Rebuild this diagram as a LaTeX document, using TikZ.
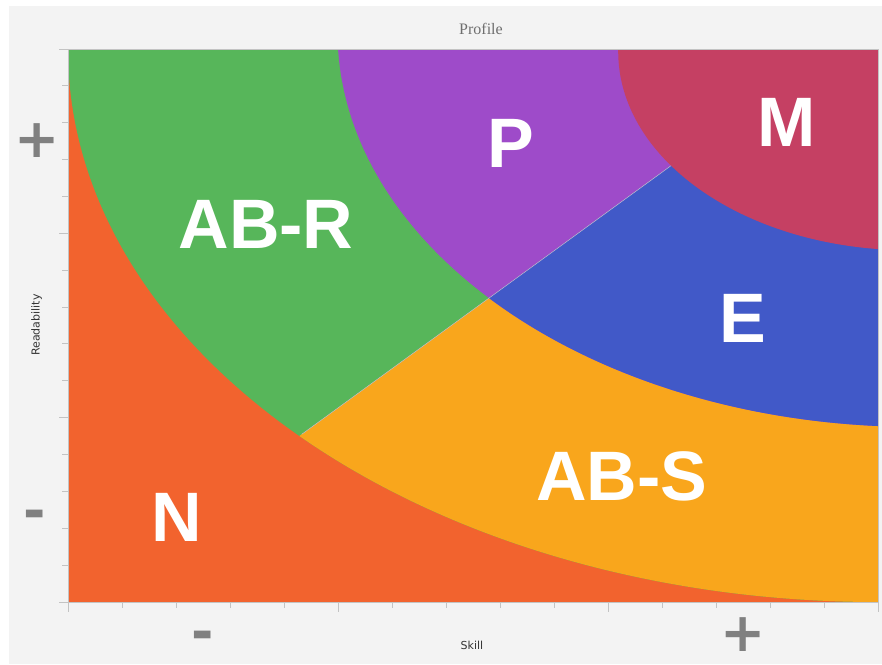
\documentclass[tikz,border=0pt]{standalone}
\usepackage{fontspec}
\setmainfont{Liberation Sans}
\newfontfamily\djv{DejaVu Sans}
\newfontfamily\lserif{Liberation Serif}
\usetikzlibrary{calc}
\definecolor{bgc}{RGB}{243,243,243}
\definecolor{cN}{RGB}{242,99,46}
\definecolor{cABR}{RGB}{87,182,90}
\definecolor{cABS}{RGB}{249,166,28}
\definecolor{cP}{RGB}{158,75,201}
\definecolor{cE}{RGB}{65,89,200}
\definecolor{cM}{RGB}{197,64,99}
\definecolor{axc}{RGB}{195,195,195}
\definecolor{signc}{RGB}{128,128,128}
\definecolor{seamc}{RGB}{190,190,205}
\definecolor{titlec}{RGB}{110,110,110}
\tikzset{
  biglabel/.style={text=white, inner sep=0pt, font=\bfseries\fontsize{70}{70}\selectfont},
  signlabel/.style={text=signc, inner sep=0pt, font=\djv\bfseries\fontsize{54}{54}\selectfont},
  axlabel/.style={text=black!80, inner sep=0pt, font=\djv\fontsize{11}{13}\selectfont},
  titlelabel/.style={text=titlec, inner sep=0pt, font=\lserif\fontsize{16}{18}\selectfont},
  axisline/.style={draw=axc, line width=1pt},
  seam/.style={draw=seamc, line width=0.5pt}
}
\begin{document}
\begin{tikzpicture}[x=1pt,y=-1pt]
\useasboundingbox (0,0) rectangle (882,664);
\fill[white] (0,0) rectangle (882,664);
\fill[bgc] (9,6) rectangle (882,664);
\coordinate (TL) at (68,49);
\coordinate (BR) at (878,602);
\coordinate (C1) at (878,49);
\coordinate (C2) at (916.9,31.3);
\coordinate (C3) at (909.3,51.5);
\coordinate (J1) at (301.7,434.3);
\coordinate (J3) at (671,165.7);
\coordinate (L0) at ($(J1)!-1!(J3)$);
\coordinate (L1) at ($(J1)!3!(J3)$);
\coordinate (L2) at (1500,800);
\begin{scope}
  \clip (TL) rectangle (BR);
  \fill[cN] (TL) rectangle (BR);
  \begin{scope}
    \clip (C1) ellipse [x radius=810pt, y radius=553pt];
    \fill[cABR] (TL) rectangle (BR);
    \fill[cABS] (L0) -- (L1) -- (L1 -| L2) -- (L2) -- (L0 |- L2) -- cycle;
  \end{scope}
  \begin{scope}
    \clip (C2) ellipse [x radius=579.4pt, y radius=395.6pt];
    \fill[cP] (TL) rectangle (BR);
    \fill[cE] (L0) -- (L1) -- (L1 -| L2) -- (L2) -- (L0 |- L2) -- cycle;
  \end{scope}
  \fill[cM] (C3) ellipse [x radius=291.1pt, y radius=198.7pt];
  \draw[seam] (J1) -- (J3);
\end{scope}
% axes
\draw[axisline] (TL) rectangle (BR);
\foreach \i in {0,...,15} {
  \pgfmathsetmacro{\yy}{49+\i*36.8667}
  \pgfmathsetmacro{\xx}{68+\i*54}
  \pgfmathtruncatemacro{\m}{mod(\i,5)}
  \ifnum\m=0
    \draw[axisline] (59,\yy) -- (68,\yy);
    \draw[axisline] (\xx,602) -- (\xx,612);
  \else
    \draw[axisline] (62,\yy) -- (68,\yy);
    \draw[axisline] (\xx,602) -- (\xx,608);
  \fi
}
% texts
\node[titlelabel, anchor=base] (title) at (481,34) {Profile};
\node[axlabel] (xlab) at (472,645) {Skill};
\node[axlabel, rotate=90] (ylab) at (36.5,325) {Readability};
\node[biglabel] (abr) at (266,224) {AB-R};
\node[biglabel] (p) at (511,143) {P};
\node[biglabel] (m) at (787,122) {M};
\node[biglabel] (e) at (743,318) {E};
\node[biglabel] (abs) at (622,476) {AB-S};
\node[biglabel] (n) at (177,517) {N};
\node[signlabel] (yplus) at (37,141) {+};
\node[signlabel, anchor=base] (yminus) at (35,529) {-};
\node[signlabel, anchor=base] (xminus) at (203,650) {-};
\node[signlabel] (xplus) at (743,635) {+};
\end{tikzpicture}
\end{document}
